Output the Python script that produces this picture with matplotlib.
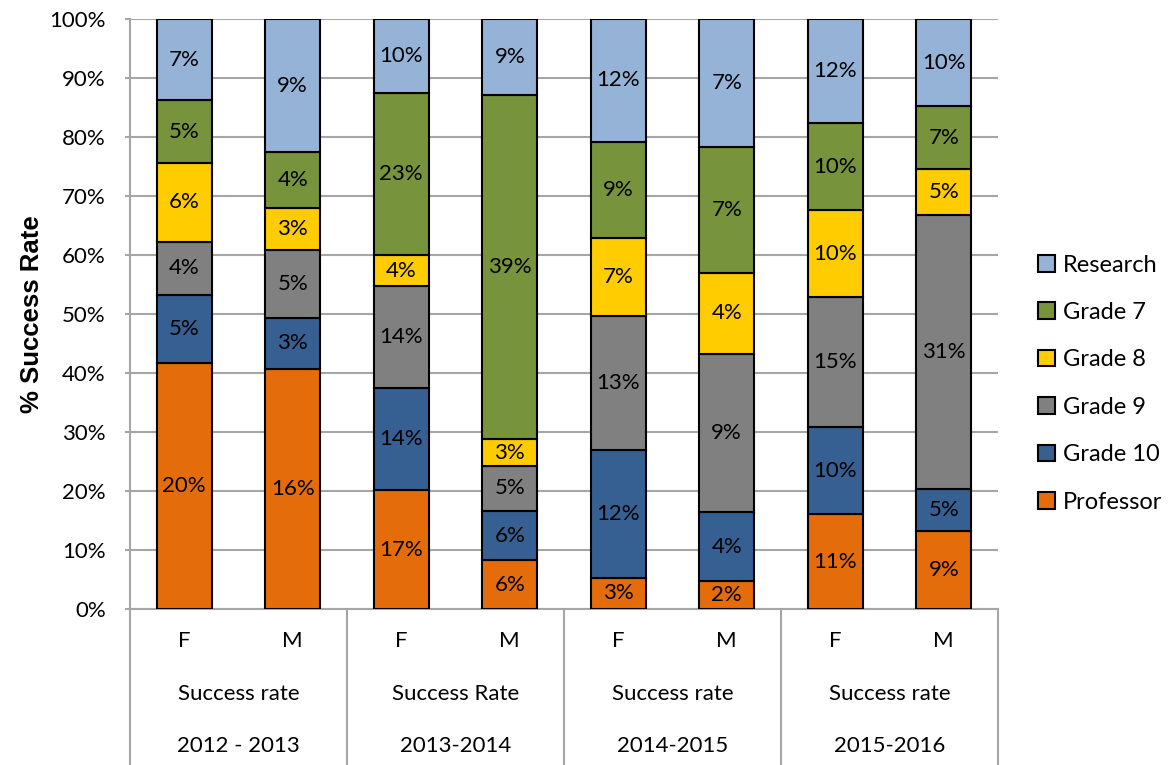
import matplotlib
matplotlib.use("Agg")
import matplotlib.pyplot as plt
import numpy as np
from matplotlib.transforms import blended_transform_factory
from matplotlib.patches import Patch

# ---- data (raw success rates, %) ----
categories = ["Professor", "Grade 10", "Grade 9", "Grade 8", "Grade 7", "Research"]
genders = ["F", "M", "F", "M", "F", "M", "F", "M"]
groups = ["Success rate", "Success Rate", "Success rate", "Success rate"]
years = ["2012 - 2013", "2013-2014", "2014-2015", "2015-2016"]

professor = [19.8, 16.1, 16.7, 5.6, 2.97, 1.58, 10.95, 8.91]
grade10 = [5.46, 3.40, 14.4, 5.6, 12.15, 3.83, 10.0, 4.69]
grade9 = [4.32, 4.58, 14.4, 5.2, 12.7, 8.88, 15.03, 31.2]
grade8 = [6.32, 2.80, 4.3, 3.0, 7.34, 4.49, 10.0, 5.16]
grade7 = [5.04, 3.71, 22.9, 39.4, 9.18, 7.06, 10.0, 7.17]
research = [6.56, 8.93, 10.4, 8.7, 11.65, 7.16, 12.04, 9.92]

colors = ["#E46C0A", "#376092", "#808080", "#FFCC00", "#77933C", "#95B3D7"]

series = [professor, grade10, grade9, grade8, grade7, research]
raw = np.array(series, dtype=float)
share = raw / raw.sum(axis=0) * 100.0

FONT = "Lato"

fig = plt.figure(figsize=(11.75, 7.65), dpi=100)
ax = fig.add_axes([130 / 1175, 1 - 609 / 765, 868 / 1175, 590 / 765])

x = np.arange(len(genders))
bottom = np.zeros(len(genders))
handles = []
for i, cat in enumerate(categories):
    ax.bar(x, share[i], width=0.51, bottom=bottom, color=colors[i],
           edgecolor="black", linewidth=1.5, zorder=3, label=cat)
    for j in range(len(x)):
        ax.text(x[j], bottom[j] + share[i][j] / 2, f"{raw[i][j]:.0f}%",
                ha="center", va="center", fontsize=16, family=FONT,
                color="black", zorder=4)
    bottom += share[i]
    handles.append(Patch(facecolor=colors[i], edgecolor="black", linewidth=1.5, label=cat))

ax.set_xlim(-0.5, len(genders) - 0.5)
ax.set_ylim(0, 100)
ax.set_yticks(np.arange(0, 101, 10))
ax.set_yticklabels([f"{v}%" for v in range(0, 101, 10)], family=FONT, fontsize=16)
ax.set_xticks([])
ax.grid(axis="y", color="#A6A6A6", linewidth=1.5, zorder=0)
for s in ["top", "right"]:
    ax.spines[s].set_visible(False)
ax.spines["left"].set_color("#A6A6A6")
ax.spines["left"].set_linewidth(1.5)
ax.spines["bottom"].set_color("#A6A6A6")
ax.spines["bottom"].set_linewidth(1.5)
ax.tick_params(axis="y", length=3.5, color="#A6A6A6", width=1.5, pad=14)

ax.set_ylabel("% Success Rate", family="Liberation Sans", fontweight="bold",
              fontsize=18.5, labelpad=4)

# multi-level category axis
trans = blended_transform_factory(ax.transData, ax.transAxes)
ax_h = 590.0
def yax(pix):
    return (609 - pix) / ax_h

for j, g in enumerate(genders):
    ax.text(x[j], yax(641), g, transform=trans, ha="center", va="center",
            fontsize=16, family=FONT)
for k in range(len(groups)):
    cx = 2 * k + 0.5
    ax.text(cx, yax(694), groups[k], transform=trans, ha="center", va="center",
            fontsize=16, family=FONT)
    ax.text(cx, yax(746), years[k], transform=trans, ha="center", va="center",
            fontsize=16, family=FONT)
for b in [-0.5, 1.5, 3.5, 5.5, 7.5]:
    ax.plot([b, b], [0, yax(765)], transform=trans, color="#A6A6A6",
            linewidth=1.5, clip_on=False)

leg = ax.legend(handles=handles[::-1], loc="center left",
                bbox_to_anchor=(1.022, 0.382), frameon=False,
                prop={"family": FONT, "size": 17}, handlelength=0.7,
                handleheight=0.7, handletextpad=0.35, labelspacing=1.12)

fig.savefig("out.png", dpi=100)
